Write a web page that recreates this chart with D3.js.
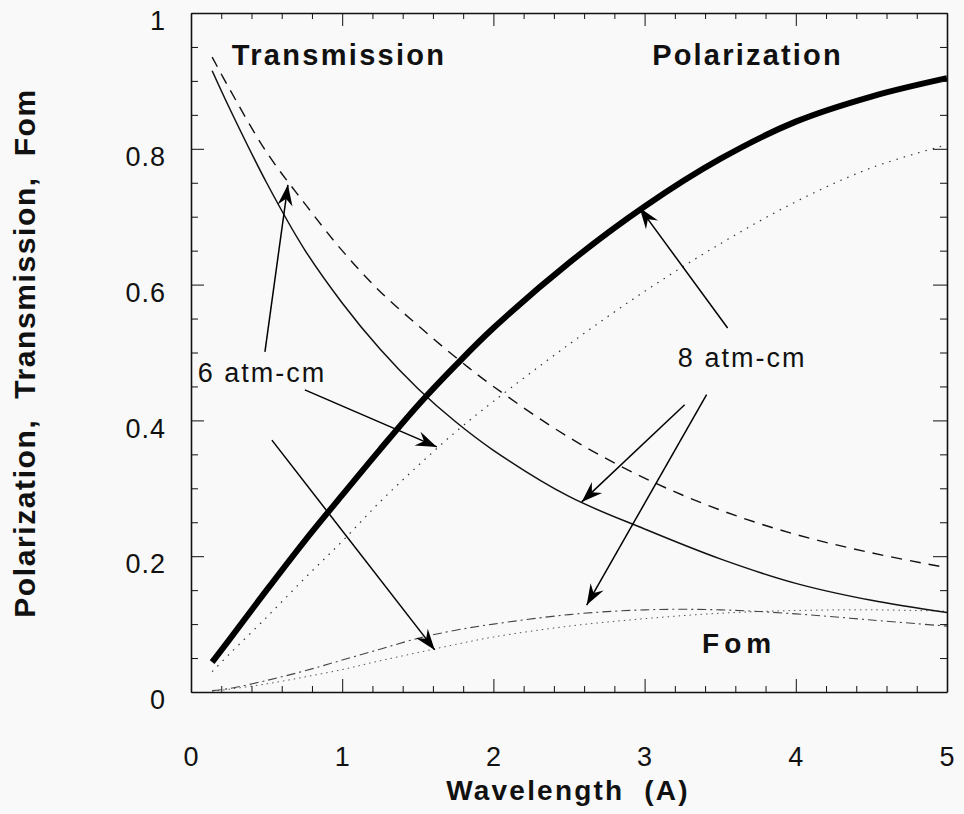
<!DOCTYPE html>
<html>
<head>
<meta charset="utf-8">
<script src="https://cdn.jsdelivr.net/npm/d3@7"></script>
<style>
  html, body { margin: 0; padding: 0; background: #f9f9f9; }
  svg { display: block; font-family: "Liberation Sans", Arial, Helvetica, sans-serif; }
  .axis path, .axis line { stroke: #111; }
  .axis text { font-size: 27px; fill: #111; letter-spacing: 1px; }
</style>
</head>
<body>
<svg id="chart"></svg>
<script>
// wavelength grid (A)
var wavelength = [0.14, 0.25, 0.5, 0.75, 1.0, 1.25, 1.5, 1.75, 2.0, 2.5, 3.0, 3.5, 4.0, 4.5, 5.0];

// 8 atm-cm
var polarization8 = [0.044, 0.076, 0.150, 0.222, 0.290, 0.357, 0.422, 0.481, 0.536, 0.632, 0.715, 0.785, 0.840, 0.877, 0.904];
var transmission8 = [0.915, 0.862, 0.750, 0.652, 0.573, 0.505, 0.447, 0.398, 0.356, 0.288, 0.240, 0.196, 0.160, 0.135, 0.117];
var fom8 = [0.002, 0.005, 0.017, 0.031, 0.047, 0.063, 0.079, 0.091, 0.100, 0.114, 0.121, 0.121, 0.115, 0.106, 0.097];

// 6 atm-cm
var polarization6 = [0.030, 0.055, 0.110, 0.167, 0.222, 0.280, 0.333, 0.383, 0.428, 0.512, 0.590, 0.660, 0.722, 0.772, 0.806];
var transmission6 = [0.935, 0.890, 0.795, 0.720, 0.650, 0.590, 0.540, 0.493, 0.450, 0.375, 0.315, 0.268, 0.232, 0.205, 0.183];
var fom6 = [0.001, 0.004, 0.012, 0.022, 0.033, 0.046, 0.058, 0.070, 0.081, 0.097, 0.108, 0.116, 0.120, 0.121, 0.119];

var xTicks = [0, 1, 2, 3, 4, 5];
var yTicks = [0, 0.2, 0.4, 0.6, 0.8, 1];

// text labels inside the plot (data coords of text start / baseline)
var labels = [
    { text: "Transmission", x: 0.27, y: 0.923, size: 29, bold: true, spacing: 2.3 },
    { text: "Polarization", x: 3.05, y: 0.923, size: 29, bold: true, spacing: 2.2 },
    { text: "Fom", x: 3.38, y: 0.057, size: 28, bold: true, spacing: 5 },
    { text: "6 atm-cm", x: 0.045, y: 0.457, size: 27, bold: false, spacing: 2 },
    { text: "8 atm-cm", x: 3.22, y: 0.479, size: 27, bold: false, spacing: 2 }
];

// arrows: [from, to] in data coords
var arrows = [
    [[0.489, 0.501], [0.641, 0.747]],
    [[0.753, 0.445], [1.626, 0.361]],
    [[0.535, 0.371], [1.612, 0.062]],
    [[3.549, 0.536], [2.967, 0.713]],
    [[3.265, 0.423], [2.584, 0.280]],
    [[3.410, 0.438], [2.617, 0.128]]
];

var width = 964;
var height = 814;
var margin = { top: 13, right: 17, bottom: 122, left: 191 };

var svg = d3.select("#chart")
    .attr("width", width)
    .attr("height", height);

var x = d3.scaleLinear()
    .domain([0, 5])
    .range([margin.left, width - margin.right]);

var y = d3.scaleLinear()
    .domain([0, 1])
    .range([height - margin.bottom, margin.top]);

var minorX = d3.range(0, 5.001, 0.2).filter(function (v) { return Math.abs(v - Math.round(v)) > 1e-6; });
var minorY = d3.range(0, 1.001, 0.05).filter(function (v) { return Math.abs(v * 5 - Math.round(v * 5)) > 1e-6; });

// curves
var line = d3.line()
    .x(function (d) { return x(d[0]); })
    .y(function (d) { return y(d[1]); })
    .curve(d3.curveCatmullRom.alpha(0.5));

var series = [
    { values: fom6, width: 1, dash: "1.5 4", color: "#555" },
    { values: fom8, width: 1.1, dash: "9 4 2 4", color: "#444" },
    { values: polarization6, width: 1.2, dash: "1.5 6", color: "#333" },
    { values: transmission6, width: 1.4, dash: "11 8", color: "#111" },
    { values: transmission8, width: 1.5, dash: null, color: "#111" },
    { values: polarization8, width: 6, dash: null, color: "#000" }
];

svg.append("g")
    .selectAll("path")
    .data(series)
    .enter()
    .append("path")
    .attr("fill", "none")
    .attr("stroke", function (d) { return d.color; })
    .attr("stroke-width", function (d) { return d.width; })
    .attr("stroke-dasharray", function (d) { return d.dash; })
    .attr("d", function (d) {
        return line(wavelength.map(function (w, i) { return [w, d.values[i]]; }));
    });

// axes: minor ticks then major ticks, all pointing inward
var bottom = height - margin.bottom;
var right = width - margin.right;

svg.append("g").attr("class", "axis")
    .attr("transform", "translate(0," + bottom + ")")
    .call(d3.axisBottom(x).tickValues(minorX).tickSize(-6).tickFormat(""))
    .call(function (g) { g.select(".domain").remove(); });
svg.append("g").attr("class", "axis")
    .attr("transform", "translate(0," + bottom + ")")
    .call(d3.axisBottom(x).tickValues(xTicks).tickSize(-13).tickSizeOuter(0).tickPadding(55).tickFormat(d3.format("d")))
    .call(function (g) { g.select(".domain").attr("stroke-width", 1.6); });

svg.append("g").attr("class", "axis")
    .attr("transform", "translate(0," + margin.top + ")")
    .call(d3.axisTop(x).tickValues(minorX).tickSize(-6).tickFormat(""))
    .call(function (g) { g.select(".domain").remove(); });
svg.append("g").attr("class", "axis")
    .attr("transform", "translate(0," + margin.top + ")")
    .call(d3.axisTop(x).tickValues(xTicks).tickSize(-13).tickSizeOuter(0).tickFormat(""))
    .call(function (g) { g.select(".domain").attr("stroke-width", 1.6); });

svg.append("g").attr("class", "axis")
    .attr("transform", "translate(" + margin.left + ",0)")
    .call(d3.axisLeft(y).tickValues(minorY).tickSize(-7).tickFormat(""))
    .call(function (g) { g.select(".domain").remove(); });
svg.append("g").attr("class", "axis")
    .attr("transform", "translate(" + margin.left + ",0)")
    .call(d3.axisLeft(y).tickValues(yTicks).tickSize(-13).tickSizeOuter(0).tickPadding(25).tickFormat(d3.format("")))
    .call(function (g) {
        g.select(".domain").attr("stroke-width", 1.6);
        g.selectAll("text").attr("dy", "0.62em");
    });

svg.append("g").attr("class", "axis")
    .attr("transform", "translate(" + right + ",0)")
    .call(d3.axisRight(y).tickValues(minorY).tickSize(-7).tickFormat(""))
    .call(function (g) { g.select(".domain").remove(); });
svg.append("g").attr("class", "axis")
    .attr("transform", "translate(" + right + ",0)")
    .call(d3.axisRight(y).tickValues(yTicks).tickSize(-14).tickSizeOuter(0).tickFormat(""))
    .call(function (g) { g.select(".domain").attr("stroke-width", 1.6); });

// axis titles
svg.append("text")
    .attr("x", 568)
    .attr("y", 800)
    .attr("text-anchor", "middle")
    .style("font-size", "28px")
    .style("font-weight", "bold")
    .style("letter-spacing", "2.2px")
    .style("white-space", "pre")
    .attr("fill", "#111")
    .text("Wavelength  (A)");

svg.append("text")
    .attr("transform", "translate(35,353) rotate(-90)")
    .attr("text-anchor", "middle")
    .style("font-size", "30px")
    .style("font-weight", "bold")
    .style("letter-spacing", "1.6px")
    .style("white-space", "pre")
    .attr("fill", "#111")
    .text("Polarization,  Transmission,  Fom");

// labels in the plot
svg.append("g")
    .selectAll("text")
    .data(labels)
    .enter()
    .append("text")
    .attr("x", function (d) { return x(d.x); })
    .attr("y", function (d) { return y(d.y); })
    .style("font-size", function (d) { return d.size + "px"; })
    .style("font-weight", function (d) { return d.bold ? "bold" : "normal"; })
    .style("letter-spacing", function (d) { return d.spacing + "px"; })
    .attr("fill", "#111")
    .text(function (d) { return d.text; });

// arrowhead
svg.append("defs").append("marker")
    .attr("id", "head")
    .attr("markerUnits", "userSpaceOnUse")
    .attr("viewBox", "-22 -9 24 18")
    .attr("refX", 0)
    .attr("refY", 0)
    .attr("markerWidth", 24)
    .attr("markerHeight", 18)
    .attr("orient", "auto")
    .append("path")
    .attr("d", "M0,0 L-21,-7.5 L-14,0 L-21,7.5 Z")
    .attr("fill", "#000");

svg.append("g")
    .selectAll("line")
    .data(arrows)
    .enter()
    .append("line")
    .attr("x1", function (d) { return x(d[0][0]); })
    .attr("y1", function (d) { return y(d[0][1]); })
    .attr("x2", function (d) { return x(d[1][0]); })
    .attr("y2", function (d) { return y(d[1][1]); })
    .attr("stroke", "#000")
    .attr("stroke-width", 1.5)
    .attr("marker-end", "url(#head)");
</script>
</body>
</html>
